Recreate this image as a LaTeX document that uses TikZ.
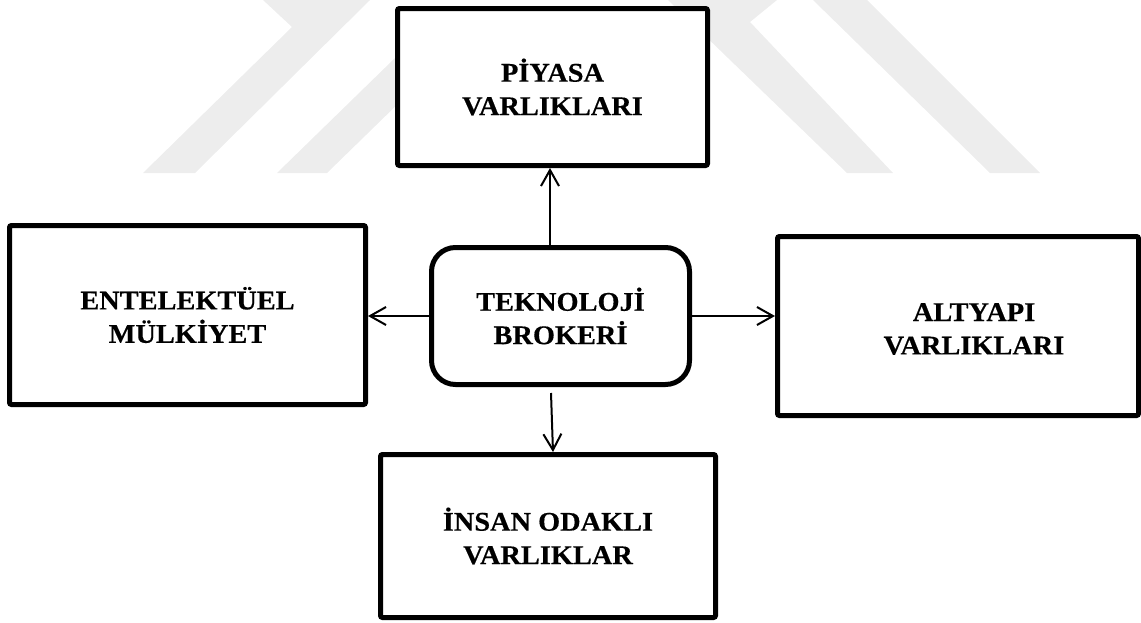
\documentclass[tikz,border=0pt]{standalone}
\usepackage{fontspec}
\setmainfont{Liberation Serif}[FakeStretch=1.05, BoldFeatures={FakeBold=0.4}]
\usetikzlibrary{arrows.meta}

\tikzset{
  % one unit = one pixel, y grows downwards
  x=0.5pt, y=-0.5pt,
  watermark/.style={fill=black!7, draw=none},
  boxfont/.style={font=\fontsize{13.5}{16.7}\selectfont\bfseries},
  box/.style={draw=black, fill=white, line width=2.5pt, rounded corners=1pt,
              inner sep=0pt, align=center, boxfont},
  hub/.style={box, rounded corners=12pt},
  label/.style={inner sep=0pt, align=center, boxfont},
  arr/.style={line width=1pt, -{Straight Barb[length=8pt,width=9pt,line width=1pt]}}
}

\begin{document}
\begin{tikzpicture}
\useasboundingbox (0,0) rectangle (1141,622);

% faint background chevrons
\fill[watermark] (263,0) -- (292,27) -- (143,173) -- (195,173) -- (370,0) -- cycle;
\fill[watermark] (277,173) -- (327,173) -- (484,20) -- (434,20) -- cycle;
\fill[watermark] (668,0) -- (777,0) -- (750,22) -- (893,173) -- (847,173) -- cycle;
\fill[watermark] (813,0) -- (867,0) -- (1040,173) -- (990,173) -- cycle;

% boxes
\node[box, minimum width=155pt, minimum height=78.5pt] (pi) at (552.5,87)
  {PİYASA\\VARLIKLARI};
\node[box, minimum width=178pt, minimum height=89.5pt] (en) at (187.5,315)
  {ENTELEKTÜEL\\MÜLKİYET};
\node[hub, minimum width=129pt, minimum height=68.5pt] (tb) at (560.5,316)
  {TEKNOLOJİ\\BROKERİ};
\node[box, minimum width=180.5pt, minimum height=89.5pt] (al) at (958,326) {};
\node[label] (alT) at (974,329) {ALTYAPI\\VARLIKLARI};
\node[box, minimum width=167.5pt, minimum height=81.5pt] (in) at (548,536)
  {İNSAN ODAKLI\\VARLIKLAR};

% connectors from the broker to the four asset groups
\draw[arr] ([xshift=-5.25pt]tb.north) -- ([xshift=-1.25pt]pi.south);
\draw[arr] (tb.west) -- (tb.west -| en.east);
\draw[arr] (tb.east) -- (tb.east -| al.west);
\draw[arr] ([xshift=-4.75pt,yshift=-3pt]tb.south) -- ([xshift=2.5pt]in.north);
\end{tikzpicture}
\end{document}
